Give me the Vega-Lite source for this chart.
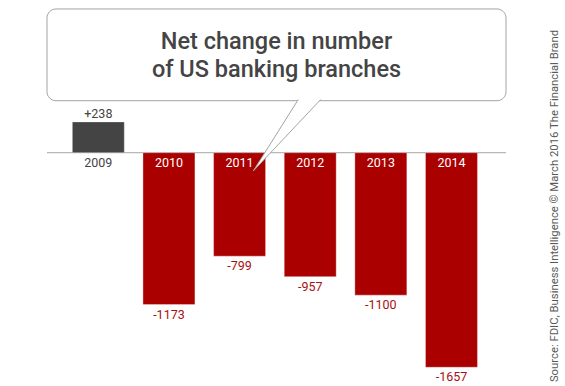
{
  "$schema": "https://vega.github.io/schema/vega-lite/v6.json",
  "width": 459,
  "height": 386,
  "autosize": {"type": "none"},
  "padding": {"left": 47, "top": 0, "right": 59, "bottom": 0},
  "background": "white",
  "config": {
    "view": {"stroke": null},
    "locale": {"number": {"decimal": ".", "thousands": ",", "grouping": [3], "currency": ["$", ""], "minus": "-"}}
  },
  "data": {
    "values": [
      {"year": "2009", "v": 238},
      {"year": "2010", "v": -1173},
      {"year": "2011", "v": -799},
      {"year": "2012", "v": -957},
      {"year": "2013", "v": -1100},
      {"year": "2014", "v": -1657}
    ]
  },
  "layer": [
    {
      "data": {"values": [{}]},
      "mark": {"type": "rect", "fill": "white", "stroke": "#a3a3a3", "strokeWidth": 1, "cornerRadius": 9},
      "encoding": {
        "y": {"datum": 1110, "type": "quantitative", "scale": {"domain": [-1801.5, 1179.2], "nice": false}, "axis": null},
        "y2": {"datum": 401.5}
      }
    },
    {
      "data": {"values": [{}]},
      "mark": {"type": "rule", "stroke": "#a6a6a6", "strokeWidth": 1},
      "encoding": {
        "y": {"datum": 0, "type": "quantitative", "scale": {"domain": [-1801.5, 1179.2], "nice": false}, "axis": null}
      }
    },
    {
      "mark": {"type": "bar", "stroke": "white", "strokeOpacity": 0.35, "strokeWidth": 1},
      "encoding": {
        "x": {"field": "year", "type": "nominal", "sort": null, "scale": {"range": [16, 439.8], "paddingInner": 0.264, "paddingOuter": 0.132}, "axis": null},
        "y": {"field": "v", "type": "quantitative", "scale": {"domain": [-1801.5, 1179.2], "nice": false}, "axis": null},
        "y2": {"datum": 0},
        "color": {"condition": {"test": "datum.v > 0", "value": "#444444"}, "value": "#ab0000"}
      }
    },
    {
      "data": {"values": [{}]},
      "mark": {"type": "point", "shape": "M1.174,-1.43L0.274,0L1.622,-1.43", "size": 10000, "filled": true, "fill": "white", "stroke": "#a3a3a3", "strokeWidth": 1, "opacity": 1},
      "encoding": {
        "x": {"datum": "2011", "type": "nominal", "scale": {"range": [16, 439.8], "paddingInner": 0.264, "paddingOuter": 0.132}, "axis": null},
        "y": {"datum": -141.3, "type": "quantitative", "scale": {"domain": [-1801.5, 1179.2], "nice": false}, "axis": null}
      }
    },
    {
      "data": {"values": [{}]},
      "mark": {"type": "text", "text": ["Net change in number", "of US banking branches"], "align": "center", "baseline": "alphabetic", "lineHeight": 28, "font": "Roboto", "fontSize": 23.5, "fontWeight": 500, "fill": "#444444"},
      "encoding": {
        "y": {"datum": 798.5, "type": "quantitative", "scale": {"domain": [-1801.5, 1179.2], "nice": false}, "axis": null}
      }
    },
    {
      "data": {"values": [{}]},
      "mark": {"type": "text", "text": "Source: FDIC, Business Intelligence © March 2016 The Financial Brand", "angle": 270, "align": "center", "baseline": "alphabetic", "dy": 107, "font": "Roboto", "fontSize": 11.3, "fill": "#595959"},
      "encoding": {
        "x": {"datum": "2014", "type": "nominal", "scale": {"range": [16, 439.8], "paddingInner": 0.264, "paddingOuter": 0.132}, "axis": null},
        "y": {"datum": -411.6, "type": "quantitative", "scale": {"domain": [-1801.5, 1179.2], "nice": false}, "axis": null}
      }
    },
    {
      "transform": [{"filter": "datum.v < 0"}],
      "mark": {"type": "text", "baseline": "middle", "align": "center", "dy": 10, "font": "Roboto", "fontSize": 12.5, "fill": "#a81010"},
      "encoding": {
        "x": {"field": "year", "type": "nominal", "sort": null, "scale": {"range": [16, 439.8], "paddingInner": 0.264, "paddingOuter": 0.132}, "axis": null},
        "y": {"field": "v", "type": "quantitative", "scale": {"domain": [-1801.5, 1179.2], "nice": false}, "axis": null},
        "text": {"field": "v", "type": "quantitative", "format": "d"}
      }
    },
    {
      "transform": [{"filter": "datum.v > 0"}],
      "mark": {"type": "text", "baseline": "middle", "align": "center", "dy": -8, "font": "Roboto", "fontSize": 12.5, "fill": "#444444"},
      "encoding": {
        "x": {"field": "year", "type": "nominal", "sort": null, "scale": {"range": [16, 439.8], "paddingInner": 0.264, "paddingOuter": 0.132}, "axis": null},
        "y": {"field": "v", "type": "quantitative", "scale": {"domain": [-1801.5, 1179.2], "nice": false}, "axis": null},
        "text": {"field": "v", "type": "quantitative", "format": "+d"}
      }
    },
    {
      "mark": {"type": "text", "baseline": "middle", "align": "center", "dy": 10.5, "font": "Roboto", "fontSize": 12.5},
      "encoding": {
        "x": {"field": "year", "type": "nominal", "sort": null, "scale": {"range": [16, 439.8], "paddingInner": 0.264, "paddingOuter": 0.132}, "axis": null},
        "y": {"datum": 0, "type": "quantitative", "scale": {"domain": [-1801.5, 1179.2], "nice": false}, "axis": null},
        "text": {"field": "year", "type": "nominal"},
        "color": {"condition": {"test": "datum.v > 0", "value": "#444444"}, "value": "white"}
      }
    }
  ]
}
